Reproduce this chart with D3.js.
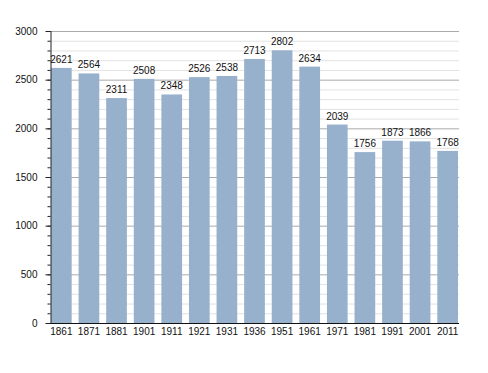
<!DOCTYPE html>
<html>
<head>
<meta charset="utf-8">
<script src="https://cdn.jsdelivr.net/npm/d3@7"></script>
<style>
body{margin:0;background:#fff;}
text{font-family:"Liberation Sans",Arial,sans-serif;font-size:10px;fill:#111;}
</style>
</head>
<body>
<script>
var years = ["1861","1871","1881","1901","1911","1921","1931","1936","1951","1961","1971","1981","1991","2001","2011"];
var population = [2621,2564,2311,2508,2348,2526,2538,2713,2802,2634,2039,1756,1873,1866,1768];
var yTicks = [0,500,1000,1500,2000,2500,3000];

var width = 488, height = 373;
var svg = d3.select("body").append("svg").attr("width",width).attr("height",height);

var x = d3.scaleBand().domain(years).range([51,458]).paddingInner(0.25).paddingOuter(0);
var y = d3.scaleLinear().domain([0,3000]).range([323,31]);

// minor gridlines
svg.append("g").selectAll("line").data(d3.range(100,3001,100).filter(function(v){return v%500!==0;}))
  .enter().append("line")
  .attr("x1",50).attr("x2",459)
  .attr("y1",function(d){return y(d)+0.5;}).attr("y2",function(d){return y(d)+0.5;})
  .attr("stroke","#e2e2e2").attr("stroke-width",1);

// major gridlines
svg.append("g").selectAll("line").data(yTicks.slice(1))
  .enter().append("line")
  .attr("x1",50).attr("x2",459)
  .attr("y1",function(d){return y(d)+0.5;}).attr("y2",function(d){return y(d)+0.5;})
  .attr("stroke","#ababab").attr("stroke-width",1);

// bars
svg.append("g").selectAll("rect").data(population).enter().append("rect")
  .attr("x",function(d,i){return x(years[i]);})
  .attr("width",x.bandwidth())
  .attr("y",function(d){return y(d);})
  .attr("height",function(d){return y(0)-y(d);})
  .attr("fill","#97b1cc");

// value labels
svg.append("g").selectAll("text").data(population).enter().append("text")
  .attr("x",function(d,i){return x(years[i])+x.bandwidth()/2;})
  .attr("y",function(d){return y(d)-5;})
  .attr("text-anchor","middle")
  .text(function(d){return d;});

// y axis minor ticks
var yMinor = d3.axisLeft(y).tickValues(d3.range(0,3001,100)).tickSize(3).tickFormat("");
svg.append("g").attr("transform","translate(50.5,0)").call(yMinor)
  .call(function(g){g.select(".domain").remove();g.selectAll("line").attr("stroke","#222");});

// y axis major
var yAxis = d3.axisLeft(y).tickValues(yTicks).tickSize(5).tickPadding(8).tickFormat(d3.format("d"));
svg.append("g").attr("transform","translate(50.5,0)").call(yAxis)
  .call(function(g){
    g.select(".domain").attr("d","M0.5,31V323.5").attr("stroke","#222");
    g.selectAll("line").attr("stroke","#222");
    g.selectAll("text").style("font-size","10px").style("font-family","Liberation Sans, Arial, sans-serif").attr("fill","#111");
  });

// x axis
var xAxis = d3.axisBottom(x).tickSize(0).tickPadding(4);
svg.append("g").attr("transform","translate(0,323.5)").call(xAxis)
  .call(function(g){
    g.select(".domain").attr("d","M50,0H459").attr("stroke","#111");
    g.selectAll("text").style("font-size","10px").style("font-family","Liberation Sans, Arial, sans-serif").attr("fill","#111");
  });
</script>
</body>
</html>
